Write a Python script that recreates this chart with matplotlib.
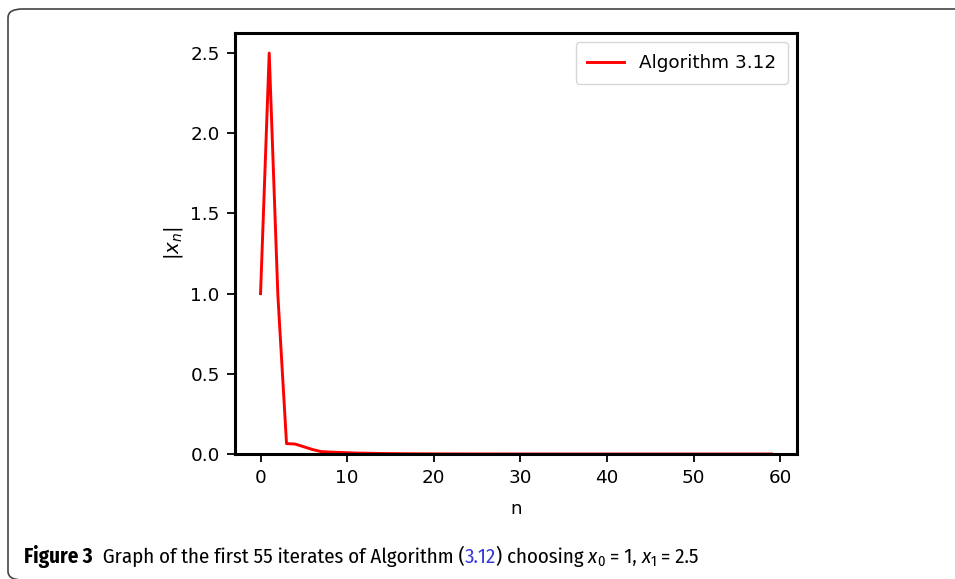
import matplotlib
matplotlib.use("Agg")
import matplotlib.pyplot as plt
from matplotlib.patches import FancyBboxPatch

# --- Data ---
n_values = list(range(60))
abs_xn = [1.0, 2.5, 0.99, 0.065, 0.062, 0.045, 0.028, 0.015, 0.012, 0.010,
          0.008, 0.006, 0.005, 0.004, 0.003, 0.0025, 0.002, 0.0016, 0.0013, 0.001,
          0.0008, 0.0007, 0.0006, 0.0005, 0.0004, 0.0003, 0.0003, 0.0002, 0.0002, 0.0002,
          0.0001, 0.0001, 0.0001, 0.0001, 0.0001, 0.0, 0.0, 0.0, 0.0, 0.0,
          0.0, 0.0, 0.0, 0.0, 0.0, 0.0, 0.0, 0.0, 0.0, 0.0,
          0.0, 0.0, 0.0, 0.0, 0.0, 0.0, 0.0, 0.0, 0.0, 0.0]
series_label = "Algorithm 3.12"
x_ticks = [0, 10, 20, 30, 40, 50, 60]
y_ticks = [0.0, 0.5, 1.0, 1.5, 2.0, 2.5]

W, H = 955, 579
fig = plt.figure(figsize=(W / 100, H / 100), dpi=100)

# rounded frame around the figure panel
frame = FancyBboxPatch((8 / W, 1 - 580 / H), (975 - 8) / W, (580 - 9) / H,
                       boxstyle="round,pad=0,rounding_size=0.015",
                       transform=fig.transFigure, fill=False,
                       edgecolor="#444444", linewidth=1.2)
fig.patches.append(frame)

fs = 13.2
ax = fig.add_axes([235 / W, 1 - 454 / H, 562 / W, 421 / H])
ax.plot(n_values, abs_xn, color="red", linewidth=2.1, label=series_label)
ax.set_ylim(0, 2.625)
ax.set_xlim(-2.95, 61.95)
ax.set_xticks(x_ticks)
ax.set_yticks(y_ticks)
ax.tick_params(labelsize=fs, width=1.3, length=6, pad=5)
for s in ax.spines.values():
    s.set_linewidth(2.2)
ax.set_xlabel("n", fontsize=fs, labelpad=9)
ax.set_ylabel(r"$|x_n|$", fontsize=fs + 1, labelpad=4)
leg = ax.legend(loc="upper right", fontsize=fs, borderpad=0.65)

# --- caption: (text, weight, style, colour, size, baseline shift px) ---
cap_base = 563
fig.canvas.draw()
renderer = fig.canvas.get_renderer()
pieces = [("Figure 3", "bold", "normal", "black", 15, 0),
          ("  Graph of the first 55 iterates of Algorithm (", "normal", "normal", "black", 15, 0),
          ("3.12", "normal", "normal", "#3a3adc", 15, 0),
          (") choosing ", "normal", "normal", "black", 15, 0),
          ("x", "normal", "italic", "black", 15, 0),
          ("0", "normal", "normal", "black", 10.5, 3),
          (" = 1, ", "normal", "normal", "black", 15, 0),
          ("x", "normal", "italic", "black", 15, 0),
          ("1", "normal", "normal", "black", 10.5, 3),
          (" = 2.5", "normal", "normal", "black", 15, 0)]
x = 24
for txt, weight, style, col, size, shift in pieces:
    t = fig.text(x / W, 1 - (cap_base + shift) / H, txt, fontsize=size,
                 fontweight=weight, fontstyle=style, color=col,
                 family=["Fira Sans Condensed", "Open Sans"],
                 va="baseline", ha="left")
    bb = t.get_window_extent(renderer)
    x = bb.x1

fig.savefig("out.png", dpi=100)
